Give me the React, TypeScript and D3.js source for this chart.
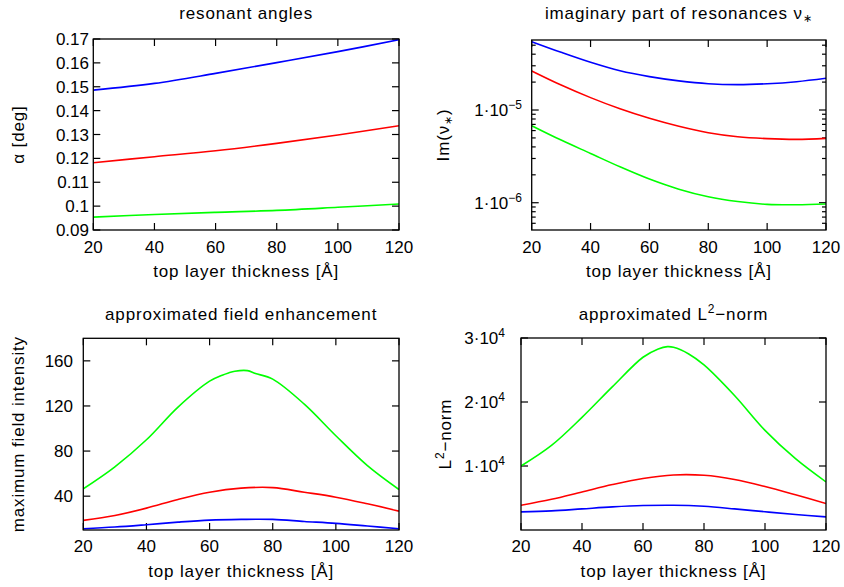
import React from 'react';
import * as d3 from 'd3';

// ---------- data ----------
const xTicks = [20, 40, 60, 80, 100, 120];

// resonant angles (deg)
const angleX = [20, 40, 60, 80, 100, 120];
const angleBlue = [0.1486, 0.1514, 0.1556, 0.1601, 0.1647, 0.1697];
const angleRed = [0.1182, 0.1207, 0.1232, 0.1263, 0.1298, 0.1337];
const angleGreen = [0.0954, 0.0965, 0.0974, 0.0982, 0.0995, 0.1009];
const angleTicks = [0.09, 0.1, 0.11, 0.12, 0.13, 0.14, 0.15, 0.16, 0.17];

// imaginary part of resonances
const imX = [20, 30, 40, 50, 60, 70, 80, 90, 100, 110, 120];
const imBlue = [5.46e-5, 4.19e-5, 3.27e-5, 2.65e-5, 2.29e-5, 2.06e-5, 1.92e-5, 1.88e-5, 1.92e-5, 2.02e-5, 2.2e-5];
const imRed = [2.64e-5, 1.86e-5, 1.36e-5, 1.03e-5, 8.13e-6, 6.67e-6, 5.69e-6, 5.15e-6, 4.91e-6, 4.82e-6, 4.94e-6];
const imGreen = [6.78e-6, 4.74e-6, 3.4e-6, 2.44e-6, 1.8e-6, 1.4e-6, 1.16e-6, 1.03e-6, 9.6e-7, 9.5e-7, 9.7e-7];
const imMajor = [1e-6, 1e-5];
const imExponents = ['−6', '−5'];

// approximated field enhancement
const fieldX = [20, 30, 40, 50, 60, 70, 80, 90, 100, 110, 120];
const fieldGreenX = [20, 30, 40, 50, 60, 64, 66, 68, 72, 74.5, 80, 90, 100, 110, 120];
const fieldGreen = [46.5, 66, 90, 119, 142, 147.3, 149.3, 150.8, 151.3, 148.8, 143.8, 121.6, 93.6, 67.1, 45.9];
const fieldRed = [18.5, 22.9, 29.4, 37.1, 43.5, 47.1, 47.6, 43.5, 39.1, 33.2, 26.7];
const fieldBlue = [11.1, 12.6, 14.7, 17, 18.8, 19.4, 19.4, 17.6, 15.9, 13.5, 11.1];
const fieldTicks = [40, 80, 120, 160];

// approximated L2 norm
const normGreenX = [20, 30, 40, 50, 60, 65, 68, 70, 75, 80, 90, 100, 110, 120];
const normGreen = [10000, 13220, 17600, 22400, 26990, 28290, 28650, 28550, 27510, 25790, 21010, 15560, 11140, 7510];
const normX = [20, 30, 40, 50, 60, 70, 80, 90, 100, 110, 120];
const normRed = [3870, 4800, 5950, 7100, 8050, 8600, 8550, 7900, 6800, 5500, 4130];
const normBlue = [2830, 2990, 3300, 3610, 3820, 3870, 3700, 3300, 2850, 2420, 2050];
const normTicks = [10000, 20000, 30000];
const normMantissa = ['1', '2', '3'];

const BLUE = '#0000ff';
const RED = '#ff0000';
const GREEN = '#00ff00';
const FONT = '"Liberation Sans", Arial, Helvetica, sans-serif';

type Series = { xs: number[]; ys: number[]; color: string };
type Frame = { l: number; r: number; t: number; b: number };

function Panel(props: {
  frame: Frame;
  y: any;
  yTicks: number[];
  yMinor?: number[];
  yLabel: (v: number, i: number) => React.ReactNode;
  labelRight: number;
  title: React.ReactNode;
  titleY: number;
  ylabel: React.ReactNode;
  ylabelX: number;
  series: Series[];
  tickY: number;
  xtitleY: number;
}) {
  const { frame, y, series } = props;
  const x = d3.scaleLinear().domain([20, 120]).range([frame.l, frame.r]);
  const cx = (frame.l + frame.r) / 2;
  const cy = (frame.t + frame.b) / 2;
  const major = 7;
  const minor = 4;
  const clipId = `clip-${Math.round(frame.l)}-${Math.round(frame.t)}`;
  return (
    <g>
      <defs>
        <clipPath id={clipId}>
          <rect x={frame.l} y={frame.t} width={frame.r - frame.l} height={frame.b - frame.t} />
        </clipPath>
      </defs>
      {xTicks.map((t) => (
        <g key={'xt' + t}>
          <line x1={x(t)} x2={x(t)} y1={frame.b} y2={frame.b - major} stroke="#000" strokeWidth={1.2} />
          <line x1={x(t)} x2={x(t)} y1={frame.t} y2={frame.t + major} stroke="#000" strokeWidth={1.2} />
          <text x={x(t)} y={props.tickY} textAnchor="middle" fontSize={17} fontFamily={FONT}>
            {t}
          </text>
        </g>
      ))}
      {props.yTicks.map((t, i) => (
        <g key={'yt' + t}>
          <line x1={frame.l} x2={frame.l + major} y1={y(t)} y2={y(t)} stroke="#000" strokeWidth={1.2} />
          <line x1={frame.r} x2={frame.r - major} y1={y(t)} y2={y(t)} stroke="#000" strokeWidth={1.2} />
          <text x={props.labelRight} y={y(t) + 6} textAnchor="end" fontSize={17} fontFamily={FONT}>
            {props.yLabel(t, i)}
          </text>
        </g>
      ))}
      {(props.yMinor || []).map((t) => (
        <g key={'ym' + t}>
          <line x1={frame.l} x2={frame.l + minor} y1={y(t)} y2={y(t)} stroke="#000" strokeWidth={1.2} />
          <line x1={frame.r} x2={frame.r - minor} y1={y(t)} y2={y(t)} stroke="#000" strokeWidth={1.2} />
        </g>
      ))}
      <g clipPath={`url(#${clipId})`}>
        {series.map((s, i) => {
          const pts = s.xs.map((v, j) => [v, s.ys[j]] as [number, number]);
          const line = d3
            .line<[number, number]>()
            .x((d) => x(d[0]))
            .y((d) => y(d[1]))
            .curve(d3.curveCatmullRom.alpha(0.5));
          return <path key={i} d={line(pts) || ''} fill="none" stroke={s.color} strokeWidth={1.6} />;
        })}
      </g>
      <rect
        x={frame.l}
        y={frame.t}
        width={frame.r - frame.l}
        height={frame.b - frame.t}
        fill="none"
        stroke="#000"
        strokeWidth={1.3}
      />
      <text x={cx} y={props.titleY} textAnchor="middle" fontSize={17} fontFamily={FONT} letterSpacing={0.85}>
        {props.title}
      </text>
      <text x={cx} y={props.xtitleY} textAnchor="middle" fontSize={17} fontFamily={FONT} letterSpacing={0.85}>
        top layer thickness [Å]
      </text>
      <text
        transform={`translate(${props.ylabelX},${cy}) rotate(-90)`}
        textAnchor="middle"
        fontSize={17}
        fontFamily={FONT}
        letterSpacing={0.85}
      >
        {props.ylabel}
      </text>
    </g>
  );
}

export default function App() {
  const f1: Frame = { l: 93.3, r: 399, t: 39, b: 230 };
  const f2: Frame = { l: 531.7, r: 826, t: 40, b: 230 };
  const f3: Frame = { l: 83.3, r: 399, t: 338.3, b: 530 };
  const f4: Frame = { l: 521, r: 826, t: 338, b: 530 };

  const y1 = d3.scaleLinear().domain([0.09, 0.17]).range([f1.b, f1.t]);
  const y2 = d3.scaleLog().domain([5.08e-7, 5.69e-5]).range([f2.b, f2.t]);
  const y3 = d3.scaleLinear().domain([10, 180]).range([f3.b, f3.t]);
  const y4 = d3.scaleLinear().domain([0, 30000]).range([f4.b, f4.t]);

  const [lo, hi] = y2.domain();
  const logMinor: number[] = [];
  for (let e = -7; e <= -4; e++) {
    for (let k = 2; k <= 9; k++) {
      const v = k * Math.pow(10, e);
      if (v >= lo && v <= hi) logMinor.push(v);
    }
  }

  const sup = (s: string) => (
    <tspan dy={-7} fontSize={12}>
      {s}
    </tspan>
  );

  return (
    <svg width={844} height={587} style={{ position: 'absolute', left: 0, top: 0, background: '#fff' }}>
      <rect x={0} y={0} width={844} height={587} fill="#fff" />
      <Panel
        frame={f1}
        y={y1}
        yTicks={angleTicks}
        yLabel={(v) => d3.format('~g')(v)}
        labelRight={89}
        title="resonant angles"
        titleY={19}
        ylabel="α [deg]"
        ylabelX={24}
        tickY={253}
        xtitleY={277}
        series={[
          { xs: angleX, ys: angleBlue, color: BLUE },
          { xs: angleX, ys: angleRed, color: RED },
          { xs: angleX, ys: angleGreen, color: GREEN },
        ]}
      />
      <Panel
        frame={f2}
        y={y2}
        yTicks={imMajor}
        yMinor={logMinor}
        yLabel={(v, i) => (
          <>
            <tspan>1·10</tspan>
            {sup(imExponents[i])}
          </>
        )}
        labelRight={522}
        title={
          <>
            <tspan>imaginary part of resonances ν</tspan>
            <tspan dy={3} fontSize={11}>
              ∗
            </tspan>
          </>
        }
        titleY={19}
        ylabel={
          <>
            <tspan>Im(ν</tspan>
            <tspan dy={3} fontSize={11}>
              ∗
            </tspan>
            <tspan dy={-3}>)</tspan>
          </>
        }
        ylabelX={449}
        tickY={253}
        xtitleY={277}
        series={[
          { xs: imX, ys: imBlue, color: BLUE },
          { xs: imX, ys: imRed, color: RED },
          { xs: imX, ys: imGreen, color: GREEN },
        ]}
      />
      <Panel
        frame={f3}
        y={y3}
        yTicks={fieldTicks}
        yLabel={(v) => String(v)}
        labelRight={73}
        title="approximated field enhancement"
        titleY={320}
        ylabel="maximum field intensity"
        ylabelX={24}
        tickY={552}
        xtitleY={577}
        series={[
          { xs: fieldGreenX, ys: fieldGreen, color: GREEN },
          { xs: fieldX, ys: fieldRed, color: RED },
          { xs: fieldX, ys: fieldBlue, color: BLUE },
        ]}
      />
      <Panel
        frame={f4}
        y={y4}
        yTicks={normTicks}
        yLabel={(v, i) => (
          <>
            <tspan>{normMantissa[i]}·10</tspan>
            {sup('4')}
          </>
        )}
        labelRight={505}
        title={
          <>
            <tspan>approximated L</tspan>
            {sup('2')}
            <tspan dy={7}>−norm</tspan>
          </>
        }
        titleY={320}
        ylabel={
          <>
            <tspan>L</tspan>
            {sup('2')}
            <tspan dy={7}>−norm</tspan>
          </>
        }
        ylabelX={451}
        tickY={552}
        xtitleY={577}
        series={[
          { xs: normGreenX, ys: normGreen, color: GREEN },
          { xs: normX, ys: normRed, color: RED },
          { xs: normX, ys: normBlue, color: BLUE },
        ]}
      />
    </svg>
  );
}
